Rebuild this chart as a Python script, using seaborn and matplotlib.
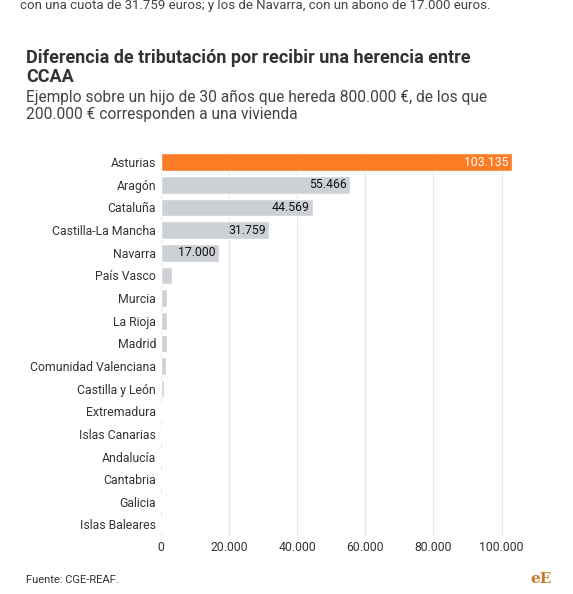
import matplotlib
matplotlib.use("Agg")
import matplotlib.pyplot as plt
import seaborn as sns
import pandas as pd
from matplotlib.ticker import FuncFormatter

regions = ["Asturias","Aragón","Cataluña","Castilla-La Mancha","Navarra","País Vasco","Murcia",
           "La Rioja","Madrid","Comunidad Valenciana","Castilla y León","Extremadura",
           "Islas Canarias","Andalucía","Cantabria","Galicia","Islas Baleares"]
values = [103135,55466,44569,31759,17000,3200,1900,1800,1700,1400,1000,400,100,50,30,20,10]
labels = ["103.135","55.466","44.569","31.759","17.000"] + [""]*12
xticks = [0,20000,40000,60000,80000,100000]

sns.set_theme(style="white")
plt.rcParams['font.family'] = ['Roboto','DejaVu Sans']
fig = plt.figure(figsize=(5.73,5.94), dpi=100)
ax = fig.add_axes([0.281,0.098,0.63,0.648])
df = pd.DataFrame({"r":regions,"v":values})
colors = ["#fb7c25"] + ["#cdd1d6"]*16
sns.barplot(data=df, y="r", x="v", hue="r", palette=colors, legend=False, ax=ax,
            width=0.78, saturation=1)
ax.set_xlim(0,106000)
ax.set_xticks(xticks)
ax.xaxis.set_major_formatter(FuncFormatter(lambda v,p: f"{int(v):,}".replace(",",".")))
ax.grid(axis="x", color="#e6e6e6", lw=0.8)
ax.set_axisbelow(True)
for s in ax.spines.values(): s.set_visible(False)
ax.set_xlabel(""); ax.set_ylabel("")
ax.tick_params(axis="both", length=0, labelsize=8.8, colors="#333333")
for i,(v,l) in enumerate(zip(values,labels)):
    if l:
        ax.text(v-1000, i, l, ha="right", va="center", fontsize=8.8,
                color="white" if i==0 else "#111111")
fig.text(0.045,0.855,"Diferencia de tributación por recibir una herencia entre\nCCAA",
         fontsize=13, fontweight="bold", color="#333333", va="bottom", linespacing=1.1)
fig.text(0.045,0.848,"Ejemplo sobre un hijo de 30 años que hereda 800.000 €, de los que\n200.000 € corresponden a una vivienda",
         fontsize=11.2, color="#444444", va="top", linespacing=1.15)
fig.text(0.045,0.018,"Fuente: CGE-REAF.", fontsize=8, color="#333333")
fig.text(0.925,0.018,"eE", fontsize=11, color="#c8782a", fontweight="bold", family="DejaVu Serif")
fig.text(0.035,0.99,"con una cuota de 31.759 euros; y los de Navarra, con un abono de 17.000 euros.",
         fontsize=9.5, color="#444444", va="center")
fig.savefig("out.png", dpi=100)
